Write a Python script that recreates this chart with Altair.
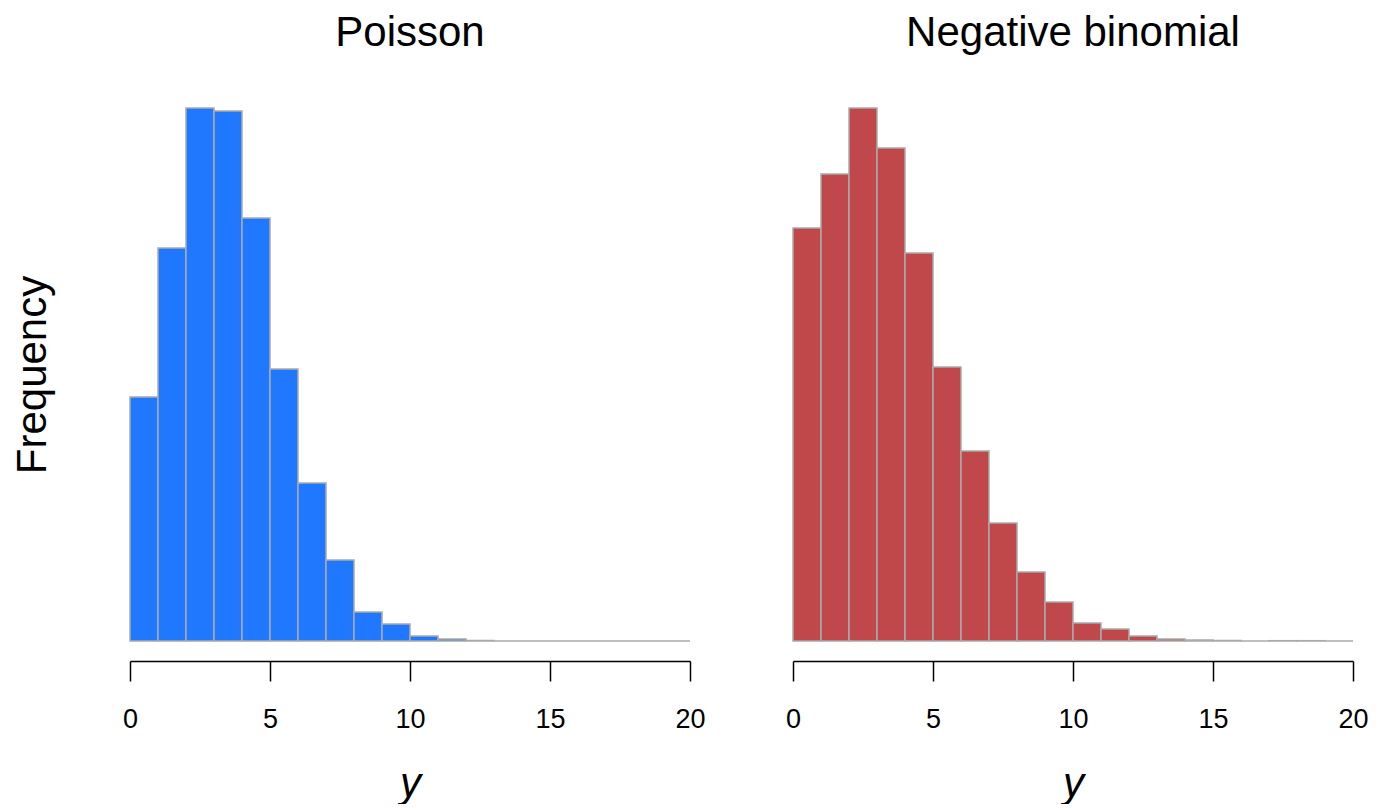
import altair as alt
import pandas as pd

bin_starts = list(range(20))
poisson_freq = [244, 393, 533, 530, 423, 272, 158, 81, 29, 17, 5, 2, 0.5, 0, 0, 0, 0, 0, 0, 0]
negbin_freq = [413, 467, 533, 493, 388, 274, 190, 118, 69, 39, 18, 12, 5, 2, 1, 0.5, 0, 0.3, 0.3, 0]
tick_values = [0, 5, 10, 15, 20]
titles = ["Poisson", "Negative binomial"]
colors = ["#1F78FF", "#C0474A"]

FONT = "Liberation Sans"


def panel(freqs, title, color, show_y_title):
    df = pd.DataFrame({
        "start": bin_starts,
        "end": [b + 1 for b in bin_starts],
        "freq": freqs,
    })
    if show_y_title:
        yaxis = alt.Axis(title="Frequency", labels=False, ticks=False, domain=False,
                         grid=False, titleFontSize=42, titleFont=FONT,
                         titleFontWeight="normal", titleColor="black", titlePadding=76)
    else:
        yaxis = None
    return alt.Chart(df).mark_rect(
        color=color, stroke="#AAAAAA", strokeWidth=1.5
    ).encode(
        x=alt.X("start:Q",
                scale=alt.Scale(domain=[0, 20], nice=False, zero=False),
                axis=alt.Axis(values=tick_values, title="y", offset=20, tickSize=20,
                              tickWidth=1.5, domainWidth=1.5, domainColor="black",
                              tickColor="black", labelFontSize=27, labelFont=FONT,
                              labelColor="black", labelPadding=25, labelFlush=False,
                              titleFont=FONT, titleFontSize=42, titleFontStyle="italic",
                              titleFontWeight="normal", titleColor="black",
                              titlePadding=31, grid=False)),
        x2="end:Q",
        y=alt.Y("freq:Q", scale=alt.Scale(domain=[0, 533], nice=False), axis=yaxis),
        y2=alt.datum(0),
    ).properties(
        width=560, height=533,
        title=alt.TitleParams(title, font=FONT, fontSize=42, fontWeight="normal",
                              color="black", offset=52),
    )


left = panel(poisson_freq, titles[0], colors[0], True)
right = panel(negbin_freq, titles[1], colors[1], False)

chart = alt.hconcat(left, right, spacing=79).configure(
    padding={"left": 3, "top": 4, "right": 0, "bottom": 0}
).configure_view(stroke=None)

chart.save("out.html", embed_options={"renderer": "svg", "actions": False})
